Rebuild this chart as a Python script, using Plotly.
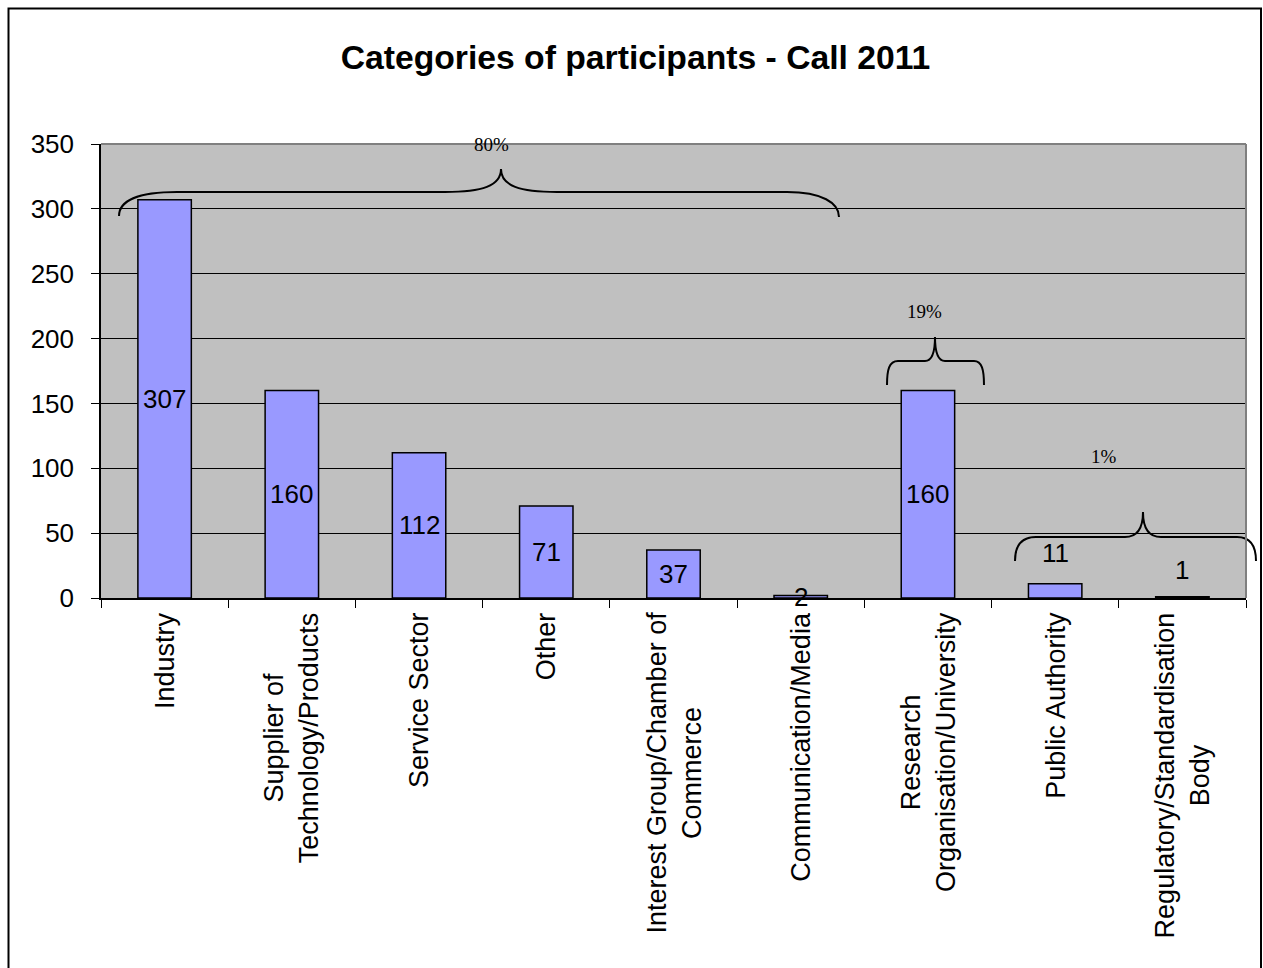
import plotly.graph_objects as go

categories = [
    "Industry",
    "Supplier of<br>Technology/Products",
    "Service Sector",
    "Other",
    "Interest Group/Chamber of<br>Commerce",
    "Communication/Media",
    "Research<br>Organisation/University",
    "Public Authority",
    "Regulatory/Standardisation<br>Body",
]
values = [307, 160, 112, 71, 37, 2, 160, 11, 1]
y_tick_values = [0, 50, 100, 150, 200, 250, 300, 350]
group_labels = ["80%", "19%", "1%"]

# layout geometry in reference pixels
W, H = 1263, 968
L, R, T, B = 101, 17, 144, 370
PW, PH = W - L - R, H - T - B

def px(x):
    return (x - L) / PW

def py(y):
    return (H - B - y) / PH

FONT = "Liberation Sans, Arial, sans-serif"
SERIF = "Liberation Serif, Times New Roman, serif"

fig = go.Figure()
fig.add_trace(go.Bar(
    x=list(range(len(categories))),
    y=values,
    marker=dict(color="#9999FF", line=dict(color="black", width=1.5)),
    width=0.42,
    hoverinfo="skip",
))

# value labels (centered in bar; small bars shifted up as in the original)
label_shift = {7: 38, 8: 27}
annotations = []
for i, v in enumerate(values):
    annotations.append(dict(
        x=i, y=v / 2, xref="x", yref="y", text=str(v), showarrow=False,
        font=dict(family=FONT, size=26, color="black"),
        xanchor="center", yanchor="middle", yshift=label_shift.get(i, 0),
    ))

# category labels rotated
for i, c in enumerate(categories):
    annotations.append(dict(
        x=i, y=0, xref="x", yref="paper", text=c, showarrow=False,
        textangle=-90, align="center",
        font=dict(family=FONT, size=27, color="black"),
        xanchor="center", yanchor="top", yshift=-12,
    ))

# group percentage labels
pct_pos = [(492, 144), (925, 311), (1104, 456)]
for t, (x, y) in zip(group_labels, pct_pos):
    annotations.append(dict(
        x=px(x), y=py(y), xref="paper", yref="paper", text=t, showarrow=False,
        font=dict(family=SERIF, size=19, color="black"),
        xanchor="center", yanchor="middle",
    ))

def path(points_cmds):
    out = []
    for cmd, pts in points_cmds:
        out.append(cmd + " " + " ".join(f"{px(x):.5f},{py(y):.5f}" for x, y in pts))
    return " ".join(out)

braces = [
    [("M", [(119, 216)]), ("C", [(119, 200), (140, 192), (177, 192)]),
     ("L", [(445, 192)]), ("C", [(482, 192), (501, 186), (501, 169)]),
     ("C", [(501, 186), (520, 192), (557, 192)]),
     ("L", [(787, 192)]), ("C", [(822, 192), (839, 203), (839, 217)])],
    [("M", [(887, 385)]), ("C", [(887, 370), (889, 361), (898, 361)]),
     ("L", [(925, 361)]), ("C", [(932, 361), (935, 352), (935, 337)]),
     ("C", [(935, 352), (938, 361), (945, 361)]),
     ("L", [(974, 361)]), ("C", [(982, 361), (984, 370), (984, 385)])],
    [("M", [(1015, 561)]), ("C", [(1015, 547), (1020, 537), (1036, 537)]),
     ("L", [(1125, 537)]), ("C", [(1137, 537), (1143, 528), (1143, 512)]),
     ("C", [(1143, 528), (1149, 537), (1161, 537)]),
     ("L", [(1237, 537)]), ("C", [(1251, 537), (1256, 547), (1256, 561)])],
]

shapes = []
for b in braces:
    shapes.append(dict(type="path", xref="paper", yref="paper", path=path(b),
                       line=dict(color="black", width=2), layer="above"))

# plot-area top/right border (gray)
shapes.append(dict(type="line", xref="paper", yref="paper", x0=0, x1=1, y0=1, y1=1,
                   line=dict(color="#808080", width=2), layer="above"))
shapes.append(dict(type="line", xref="paper", yref="paper", x0=1, x1=1, y0=0, y1=1,
                   line=dict(color="#808080", width=2), layer="above"))
# outer chart border
shapes.append(dict(type="rect", xref="paper", yref="paper",
                   x0=px(8.5), x1=px(1261), y0=py(1100), y1=py(8.5),
                   line=dict(color="black", width=2), layer="above"))

fig.update_layout(
    width=W, height=H,
    margin=dict(l=L, r=R, t=T, b=B, autoexpand=False),
    paper_bgcolor="white",
    plot_bgcolor="#C0C0C0",
    showlegend=False,
    title=dict(text="<b>Categories of participants - Call 2011</b>",
               x=635.5 / W, y=1 - 57 / H, xref="container", yref="container",
               xanchor="center", yanchor="middle",
               font=dict(family=FONT, size=33.7, color="black")),
    xaxis=dict(
        range=[-0.5, len(categories) - 0.5],
        tickmode="array", tickvals=[i - 0.5 for i in range(len(categories) + 1)],
        ticktext=[""] * (len(categories) + 1),
        showticklabels=False,
        ticks="outside", ticklen=8, tickcolor="black", tickwidth=1,
        showline=True, linecolor="black", linewidth=1.5,
        showgrid=False, zeroline=False, fixedrange=True,
    ),
    yaxis=dict(
        range=[0, 350], tickvals=y_tick_values,
        ticks="outside", ticklen=8, tickcolor="black", tickwidth=1,
        showline=True, linecolor="black", linewidth=1.5,
        showgrid=True, gridcolor="black", gridwidth=1,
        zeroline=False, fixedrange=True,
        tickfont=dict(family=FONT, size=26, color="black"),
        ticklabelstandoff=12,
    ),
    annotations=annotations,
    shapes=shapes,
)

fig.write_html("out.html", config={"displayModeBar": False},
               post_script="document.body.style.margin='0';")
